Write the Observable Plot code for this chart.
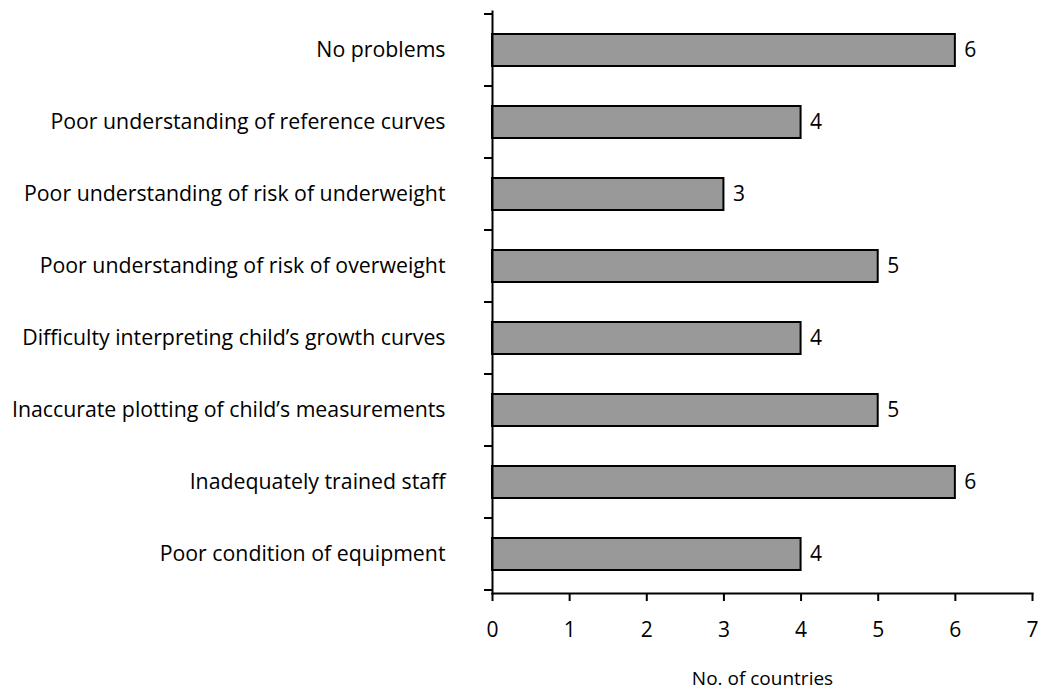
<!DOCTYPE html>
<html>
<head>
<meta charset="utf-8">
<script src="https://cdn.jsdelivr.net/npm/d3@7"></script>
<script src="https://cdn.jsdelivr.net/npm/@observablehq/plot@0.6"></script>
<style>
  html, body { margin: 0; padding: 0; background: #fff; }
  #chart svg { display: block; }
</style>
</head>
<body>
<div id="chart"></div>
<script>
const categories = [
  "No problems",
  "Poor understanding of reference curves",
  "Poor understanding of risk of underweight",
  "Poor understanding of risk of overweight",
  "Difficulty interpreting child\u2019s growth curves",
  "Inaccurate plotting of child\u2019s measurements",
  "Inadequately trained staff",
  "Poor condition of equipment"
];
const counts = [6, 4, 3, 5, 4, 5, 6, 4];
const xTicks = [0, 1, 2, 3, 4, 5, 6, 7];
const xLabel = "No. of countries";

const data = categories.map((c, i) => ({category: c, count: counts[i]}));

// Tick marks at category boundaries on the left of the y axis
function bandBoundaryTicks(index, scales, values, dimensions) {
  const y = scales.y;
  const dom = categories;
  const step = y(dom[1]) - y(dom[0]);
  const ys = dom.map(d => y(d)).concat([y(dom[dom.length - 1]) + step]);
  const x0 = dimensions.marginLeft;
  const g = d3.create("svg:g").attr("stroke", "black").attr("stroke-width", 2);
  for (const yy of ys) {
    g.append("line").attr("x1", x0 - 8).attr("x2", x0).attr("y1", yy).attr("y2", yy);
  }
  return g.node();
}

const chart = Plot.plot({
  width: 1040,
  height: 691,
  marginTop: 11,
  marginBottom: 98,
  marginLeft: 492,
  marginRight: 8,
  style: {fontFamily: "'Open Sans', sans-serif", fontSize: "21px", color: "black", background: "white"},
  x: {domain: [0, 7], ticks: xTicks, label: xLabel},
  y: {domain: categories, padding: 0, label: null},
  marks: [
    Plot.barX(data, {
      x: "count", y: "category",
      fill: "#999999", stroke: "black", strokeWidth: 2,
      insetTop: 20, insetBottom: 20
    }),
    Plot.text(data, {
      x: "count", y: "category", text: d => String(d.count),
      textAnchor: "start", dx: 9, fontSize: 21, fill: "black"
    }),
    Plot.frame({anchor: "left", stroke: "black", strokeWidth: 2}),
    Plot.frame({anchor: "bottom", stroke: "black", strokeWidth: 2}),
    bandBoundaryTicks,
    Plot.axisY({tickSize: 0, tickPadding: 47, fontSize: 21.3, label: null}),
    Plot.axisX({
      ticks: xTicks, tickFormat: "d", tickSize: 8, tickPadding: 21, strokeWidth: 2,
      fontSize: 21, label: null
    }),
    Plot.axisX({
      ticks: [], tickSize: 0, fontSize: 19, label: xLabel,
      labelAnchor: "center", labelArrow: "none", labelOffset: 91
    })
  ]
});
document.getElementById("chart").appendChild(chart);
</script>
</body>
</html>
